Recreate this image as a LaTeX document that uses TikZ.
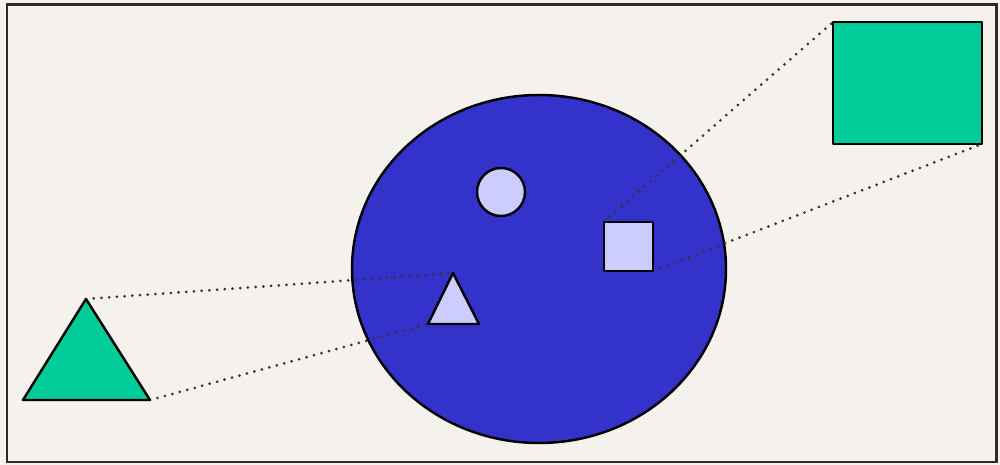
\documentclass[tikz,border=0pt]{standalone}
\definecolor{paper}{HTML}{F5F2ED}
\definecolor{framegray}{HTML}{2A2A2A}
\definecolor{discblue}{HTML}{3333CC}
\definecolor{paleblue}{HTML}{CCCCFF}
\definecolor{shapegreen}{HTML}{00CC99}
\tikzset{
    outline/.style={draw=black, line width=1.4pt, line join=round},
    guide/.style={draw=black!80, line width=1.7pt, line cap=round, dash pattern=on 0pt off 4.4pt}
}
\begin{document}
\begin{tikzpicture}[x=0.02cm, y=-0.02cm]
    % Paper and frame
    \fill[paper] (0,0) rectangle (1000,465);
    \useasboundingbox (0,0) rectangle (1000,465);
    \draw[framegray, line width=1.7pt] (7,5) rectangle (996,462);

    % Big disc
    \draw[outline, fill=discblue] (539,269) ellipse [x radius=187, y radius=174];

    % Corner points
    \coordinate (bigtriA) at (86,299);
    \coordinate (bigtriL) at (23,400);
    \coordinate (bigtriR) at (150,400);
    \coordinate (smalltriA) at (453,273);
    \coordinate (smalltriL) at (428,324);
    \coordinate (smalltriR) at (479,324);
    \coordinate (smallsqNW) at (604,222);
    \coordinate (smallsqSE) at (653,271);
    \coordinate (bigsqNW) at (833,22);
    \coordinate (bigsqSE) at (982,144);

    % Guide lines
    \draw[guide] (bigtriA) -- (smalltriA);
    \draw[guide] (bigtriR) -- (smalltriL);
    \draw[guide] (smallsqNW) -- (bigsqNW);
    \draw[guide] (smallsqSE) -- (bigsqSE);

    % Green shapes
    \draw[outline, fill=shapegreen] (bigtriA) -- (bigtriL) -- (bigtriR) -- cycle;
    \draw[outline, fill=shapegreen] (bigsqNW) rectangle (bigsqSE);

    % Pale shapes on the disc
    \draw[outline, fill=paleblue] (501,192) circle [radius=24];
    \draw[outline, fill=paleblue] (smalltriA) -- (smalltriL) -- (smalltriR) -- cycle;
    \draw[outline, fill=paleblue] (smallsqNW) rectangle (smallsqSE);
\end{tikzpicture}
\end{document}
